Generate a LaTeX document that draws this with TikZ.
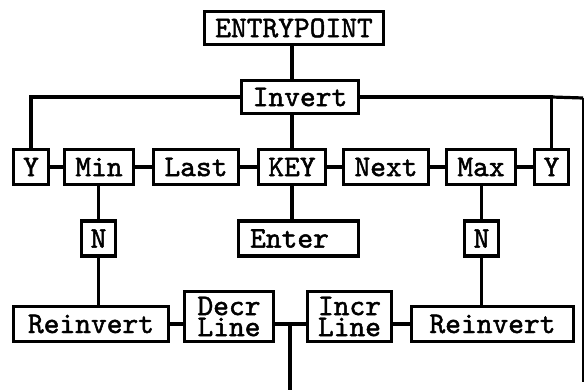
\documentclass[tikz,border=0pt]{standalone}
\usepackage{fontspec}
\newfontfamily\dotfont{lmmono10-regular.otf}[FakeBold=1.6]
\begin{document}
\begin{tikzpicture}[x=1pt,y=-1pt,
  box/.style={draw, line width=3.6pt, inner sep=0pt, align=center,
    font=\dotfont\fontsize{30}{21}\selectfont, minimum height=35pt},
  wire/.style={line width=3.2pt},
  edgeline/.style={line width=1.5pt}]
\useasboundingbox (0,0) rectangle (584,390);
% row 0 / 1
\node[box, minimum width=179pt, minimum height=33pt] (entry) at (294,28) {ENTRYPOINT};
\node[box, minimum width=117pt, minimum height=33pt] (invert) at (300,97) {Invert};
% row 2
\node[box, minimum width=35pt] (yl)   at (31,167)  {Y};
\node[box, minimum width=69pt] (min)  at (99,167)  {Min};
\node[box, minimum width=85pt] (last) at (196,167) {Last};
\node[box, minimum width=67pt] (key)  at (292,167) {KEY};
\node[box, minimum width=85pt] (next) at (386,167) {Next};
\node[box, minimum width=69pt] (max)  at (481,167) {Max};
\node[box, minimum width=34pt] (yr)   at (551.5,167) {Y};
% row 3
\node[box, minimum width=34pt] (nl)    at (98.5,238.5) {N};
\node[box, minimum width=120pt] (enter) at (298.5,238.5) {Enter\hspace{18pt}};
\node[box, minimum width=34pt] (nr)    at (481.5,238.5) {N};
% row 4
\node[box, minimum width=155pt] (rl)   at (91,324)    {Reinvert};
\node[box, minimum width=89pt, minimum height=50pt] (decr) at (229,316.5) {Decr\\Line};
\node[box, minimum width=84pt, minimum height=50pt] (incr) at (349.5,316.5) {Incr\\Line};
\node[box, minimum width=162pt] (rr)   at (492.5,324) {Reinvert};
% free ends
\coordinate (edgetop) at (583,98);
\coordinate (edgebot) at (583,382);
\coordinate (bot) at (290,390);
% connectors
\draw[wire] (entry.south -| key.north) -- (invert.north -| key.north);
\draw[wire] (invert.west) -- (yl.north |- invert.west) -- (yl.north);
\draw[wire] (invert.east) -- (yr.north |- invert.east) -- (yr.north);
\draw[wire] (yr.north |- invert.east) -- (edgetop);
\draw[edgeline] (edgetop) -- (edgebot);
\draw[wire] (invert.south -| key.north) -- (key.north);
\draw[wire] (yl) -- (min);
\draw[wire] (min) -- (last);
\draw[wire] (last) -- (key);
\draw[wire] (key) -- (next);
\draw[wire] (next) -- (max);
\draw[wire] (max) -- (yr);
\draw[wire] (min.south -| nl.north) -- (nl.north);
\draw[wire] (nl.south) -- (rl.north -| nl.south);
\draw[wire] (key.south) -- (enter.north -| key.south);
\draw[wire] (max.south -| nr.north) -- (nr.north);
\draw[wire] (nr.south) -- (rr.north -| nr.south);
\draw[wire] (rl.east) -- (rl.east -| decr.west);
\draw[wire] (decr.east |- rl.east) -- (incr.west |- rl.east);
\draw[wire] (incr.east |- rr.west) -- (rr.west);
\draw[wire] (bot |- rl.east) -- (bot);
\end{tikzpicture}
\end{document}
